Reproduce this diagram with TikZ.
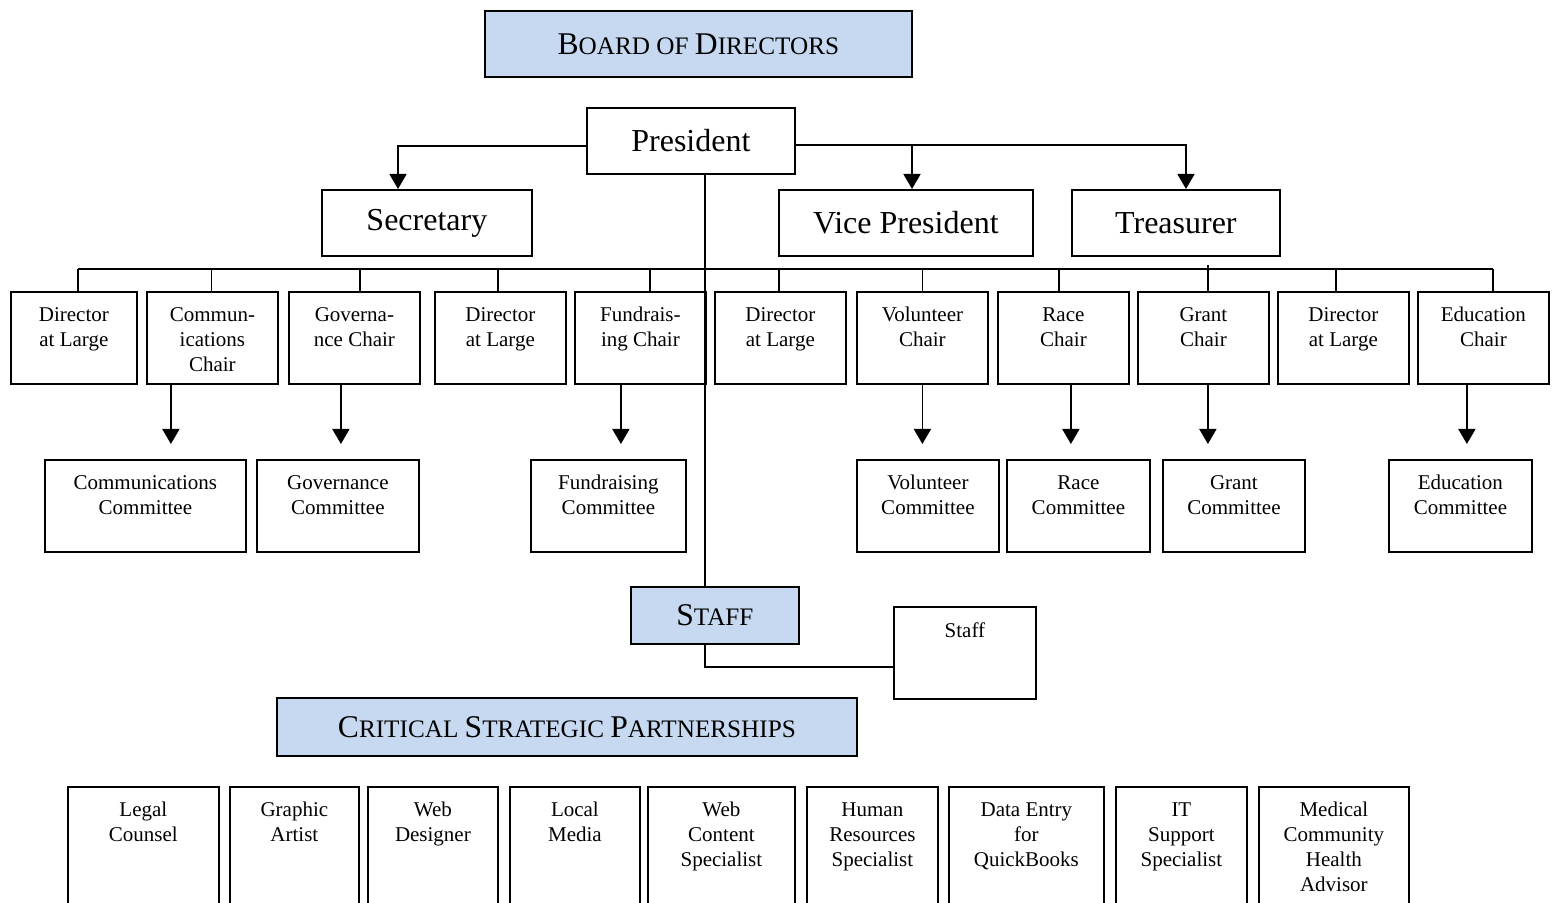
\documentclass[tikz,border=0pt]{standalone}
\usepackage{fontspec}
\setmainfont{Liberation Serif}
\usetikzlibrary{arrows.meta}
\definecolor{boardblue}{HTML}{C6D9F1}
\newcommand{\capsc}[2]{{\fontsize{15.8}{19}\selectfont #1}{\fontsize{12.6}{15}\selectfont #2}}

\begin{document}
\begin{tikzpicture}[x=0.5pt, y=-0.5pt,
  box/.style={draw, rectangle, line width=0.9pt, anchor=north west, inner sep=0pt},
  head/.style={box, fill=boardblue},
  office/.style={box, minimum height=33pt, font=\fontsize{16}{19}\selectfont},
  chair/.style={box, minimum height=46pt, minimum width=65.5pt},
  cmte/.style={box, minimum height=46pt},
  partner/.style={box, minimum height=80pt},
  txt/.style={anchor=north, inner sep=0pt, align=center, yshift=-8pt, font=\fontsize{10.5}{12.5}\selectfont},
  link/.style={line width=0.9pt},
  arr/.style={link, -{Triangle[length=7.5pt,width=8.5pt]}}]
 \useasboundingbox (0,0) rectangle (1554,903);
 \clip (0,0) rectangle (1554,903);

 % top offices
 \node[head, minimum width=213.5pt, minimum height=33pt] (board) at (484,10) {\capsc{B}{OARD OF }\capsc{D}{IRECTORS}};
 \node[office, minimum width=104pt] (pres) at (586,107) {President};
 \node[office, minimum width=105pt] (sec) at (321,189) {Secretary};
 \node[office, minimum width=127pt] (vp) at (778,189) {Vice President};
 \node[office, minimum width=104pt] (tre) at (1071,189) {Treasurer};

 \coordinate (sa) at (398,0);
 \coordinate (va) at (912,0);
 \coordinate (ta) at (1186,0);
 \coordinate (tr) at (705,0);
 \path ([yshift=-2pt]pres.east) coordinate (pr);
 \draw[arr] ([yshift=-2.5pt]pres.west) -| (sa |- sec.north);
 \draw[arr] (pr) -| (ta |- tre.north);
 \draw[arr] (va |- pr) -- (va |- vp.north);

 % chairs
 \node[chair, minimum width=63pt] (c1) at (10,291) {};
 \node[txt] (c1t) at (c1.north) {Director\\at Large};
 \node[chair] (c2) at (146,291) {};
 \node[txt] (c2t) at (c2.north) {Commun-\\ications\\Chair};
 \node[chair] (c3) at (288,291) {};
 \node[txt] (c3t) at (c3.north) {Governa-\\nce Chair};
 \node[chair] (c4) at (434,291) {};
 \node[txt] (c4t) at (c4.north) {Director\\at Large};
 \node[chair] (c5) at (574,291) {};
 \node[txt] (c5t) at (c5.north) {Fundrais-\\ing Chair};
 \node[chair] (c6) at (714,291) {};
 \node[txt] (c6t) at (c6.north) {Director\\at Large};
 \node[chair] (c7) at (856,291) {};
 \node[txt] (c7t) at (c7.north) {Volunteer\\Chair};
 \node[chair] (c8) at (997,291) {};
 \node[txt] (c8t) at (c8.north) {Race\\Chair};
 \node[chair] (c9) at (1137,291) {};
 \node[txt] (c9t) at (c9.north) {Grant\\Chair};
 \node[chair] (c10) at (1277,291) {};
 \node[txt] (c10t) at (c10.north) {Director\\at Large};
 \node[chair] (c11) at (1417,291) {};
 \node[txt] (c11t) at (c11.north) {Education\\Chair};

 % bus and ticks
 \draw[link] ([xshift=2pt,yshift=11pt]c1.north) -- ([xshift=4.75pt,yshift=11pt]c11.north);
 \draw[link] ([xshift=2pt]c1.north) -- ++(0,-22);
 \draw[link] ([xshift=-0.5pt]c2.north) -- ++(0,-22);
 \draw[link] ([xshift=2.75pt]c3.north) -- ++(0,-22);
 \draw[link] ([xshift=-1.25pt]c4.north) -- ++(0,-22);
 \draw[link] ([xshift=4.75pt]c5.north) -- ++(0,-22);
 \draw[link] ([xshift=-0.75pt]c6.north) -- ++(0,-22);
 \draw[link] (c7.north) -- ++(0,-22);
 \draw[link] ([xshift=-2.25pt]c8.north) -- ++(0,-22);
 \draw[link] ([xshift=2.25pt]c9.north) -- ++(0,-26);
 \draw[link] ([xshift=-3.75pt]c10.north) -- ++(0,-22);
 \draw[link] ([xshift=4.75pt]c11.north) -- ++(0,-22);

 % committees
 \node[cmte, minimum width=100.5pt] (m1) at (44,459) {};
 \node[txt] (m1t) at (m1.north) {Communications\\Committee};
 \node[cmte, minimum width=81pt] (m2) at (256,459) {};
 \node[txt] (m2t) at (m2.north) {Governance\\Committee};
 \node[cmte, minimum width=77.5pt] (m3) at (530,459) {};
 \node[txt] (m3t) at (m3.north) {Fundraising\\Committee};
 \node[cmte, minimum width=71pt] (m4) at (856,459) {};
 \node[txt] (m4t) at (m4.north) {Volunteer\\Committee};
 \node[cmte, minimum width=71.5pt] (m5) at (1006,459) {};
 \node[txt] (m5t) at (m5.north) {Race\\Committee};
 \node[cmte, minimum width=71pt] (m6) at (1162,459) {};
 \node[txt] (m6t) at (m6.north) {Grant\\Committee};
 \node[cmte, minimum width=71.5pt] (m7) at (1388,459) {};
 \node[txt] (m7t) at (m7.north) {Education\\Committee};

 \draw[arr, shorten >=7.5pt] ([xshift=-20.75pt]c2.south) -- ([xshift=-20.75pt]c2.south |- m1.north);
 \draw[arr, shorten >=7.5pt] ([xshift=-6.75pt]c3.south) -- ([xshift=-6.75pt]c3.south |- m2.north);
 \draw[arr, shorten >=7.5pt] ([xshift=-9.75pt]c5.south) -- ([xshift=-9.75pt]c5.south |- m3.north);
 \draw[arr, shorten >=7.5pt] (c7.south) -- (c7.south |- m4.north);
 \draw[arr, shorten >=7.5pt] ([xshift=3.75pt]c8.south) -- ([xshift=3.75pt]c8.south |- m5.north);
 \draw[arr, shorten >=7.5pt] ([xshift=2.25pt]c9.south) -- ([xshift=2.25pt]c9.south |- m6.north);
 \draw[arr, shorten >=7.5pt] ([xshift=-8.25pt]c11.south) -- ([xshift=-8.25pt]c11.south |- m7.north);

 % staff
 \node[head, minimum width=84pt, minimum height=28.5pt] (staff) at (630,586) {\capsc{S}{TAFF}};
 \node[cmte, minimum width=71pt] (sbox) at (893,606) {};
 \node[txt] (sboxt) at (sbox.north) {Staff};
 \draw[link] (tr |- pres.south) -- (tr |- staff.north);
 \draw[link] (tr |- staff.south) |- ([yshift=-7pt]sbox.west);

 % partnerships
 \node[head, minimum width=290pt, minimum height=29pt] (csp) at (276,697) {\capsc{C}{RITICAL }\capsc{S}{TRATEGIC }\capsc{P}{ARTNERSHIPS}};
 \node[partner, minimum width=75.5pt] (p1) at (67,786) {};
 \node[txt] (p1t) at (p1.north) {Legal\\Counsel};
 \node[partner, minimum width=64.5pt] (p2) at (229,786) {};
 \node[txt] (p2t) at (p2.north) {Graphic\\Artist};
 \node[partner, minimum width=65pt] (p3) at (367,786) {};
 \node[txt] (p3t) at (p3.north) {Web\\Designer};
 \node[partner, minimum width=65pt] (p4) at (509,786) {};
 \node[txt] (p4t) at (p4.north) {Local\\Media};
 \node[partner, minimum width=73.5pt] (p5) at (647,786) {};
 \node[txt] (p5t) at (p5.north) {Web\\Content\\Specialist};
 \node[partner, minimum width=65.5pt] (p6) at (806,786) {};
 \node[txt] (p6t) at (p6.north) {Human\\Resources\\Specialist};
 \node[partner, minimum width=77.5pt] (p7) at (948,786) {};
 \node[txt] (p7t) at (p7.north) {Data Entry\\for\\QuickBooks};
 \node[partner, minimum width=65.5pt] (p8) at (1115,786) {};
 \node[txt] (p8t) at (p8.north) {IT\\Support\\Specialist};
 \node[partner, minimum width=75pt] (p9) at (1258,786) {};
 \node[txt] (p9t) at (p9.north) {Medical\\Community\\Health\\Advisor};
\end{tikzpicture}
\end{document}
